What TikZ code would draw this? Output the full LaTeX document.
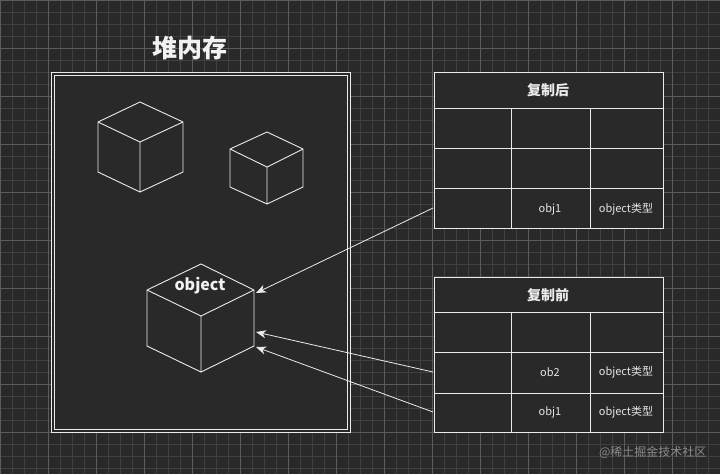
\documentclass[tikz,border=0pt]{standalone}
\usepackage{fontspec}
\usetikzlibrary{arrows.meta}
\setmainfont{Noto Sans CJK SC}
\begin{document}
\begin{tikzpicture}[x=1pt,y=-1pt,
  ln/.style={draw=white!92!black,line width=0.9pt},
  cell/.style={text=white!90!black,font=\fontsize{11}{13}\selectfont},
  hd/.style={text=white!92!black,font=\fontsize{14}{16}\selectfont\bfseries},
  arr/.style={draw=white!92!black,line width=0.8pt,-{Stealth[length=10pt,width=8pt,inset=3pt]}}]
\useasboundingbox (0,0) rectangle (720,474);
\fill[black!84] (0,0) rectangle (720,474);
\foreach \i in {0,12,...,720} \draw[black!75,line width=0.3pt] (\i,0)--(\i,474);
\foreach \i in {0,12,...,474} \draw[black!75,line width=0.3pt] (0,\i)--(720,\i);
\foreach \i in {0,48,...,720} \draw[black!64,line width=0.6pt] (\i,0)--(\i,474);
\foreach \i in {0,48,...,474} \draw[black!64,line width=0.6pt] (0,\i)--(720,\i);
% heap
\node[text=white!95!black,font=\fontsize{25}{28}\selectfont\bfseries] (title) at (190,48) {堆内存};
\draw[ln,fill=black!84] (51,72) rectangle (350,432);
\draw[ln,line width=0.7pt] (54,75) rectangle (347,429);
% cubes
\draw[ln] (140,102)--(183,122)--(183,172)--(140,192)--(98,172)--(98,122)--cycle (98,122)--(140,142)--(183,122) (140,142)--(140,192);
\draw[ln] (267,132)--(303,149)--(303,187)--(267,204)--(230,187)--(230,149)--cycle (230,149)--(267,167)--(303,149) (267,167)--(267,204);
\draw[ln] (201,264)--(254,290)--(254,346)--(201,372)--(147,346)--(147,290)--cycle (147,290)--(201,316)--(254,290) (201,316)--(201,372);
\coordinate (o1) at (256,293);
\coordinate (o2) at (256,332);
\coordinate (o3) at (256,347);
\node[text=white!95!black,font=\fontsize{16}{18}\selectfont\bfseries] (obj) at (200,286) {object};
% table after
\draw[ln,fill=black!84] (434,72) rectangle (663,228);
\draw[ln] (434,108)--(663,108) (434,148)--(663,148) (434,188)--(663,188) (511,108)--(511,228) (590,108)--(590,228);
\node[hd] (h1) at (548,90) {复制后};
\node[cell] (a1) at (550,209) {obj1};
\node[cell] (a2) at (626,209) {object类型};
\coordinate (s1) at (433,208);
% table before
\draw[ln,fill=black!84] (434,277) rectangle (663,432);
\draw[ln] (434,312)--(663,312) (434,352)--(663,352) (434,393)--(663,393) (511,312)--(511,432) (590,312)--(590,432);
\node[hd] (h2) at (548,295) {复制前};
\node[cell] (b1) at (550,372) {ob2};
\node[cell] (b2) at (626,372) {object类型};
\node[cell] (c1) at (550,412) {obj1};
\node[cell] (c2) at (626,412) {object类型};
\coordinate (s2) at (433,372);
\coordinate (s3) at (433,412);
\draw[arr] (s1)--(o1);
\draw[arr] (s2)--(o2);
\draw[arr] (s3)--(o3);
\node[text=black!45,font=\fontsize{12}{14}\selectfont,anchor=east] (wm) at (710,452) {@稀土掘金技术社区};
\end{tikzpicture}
\end{document}
